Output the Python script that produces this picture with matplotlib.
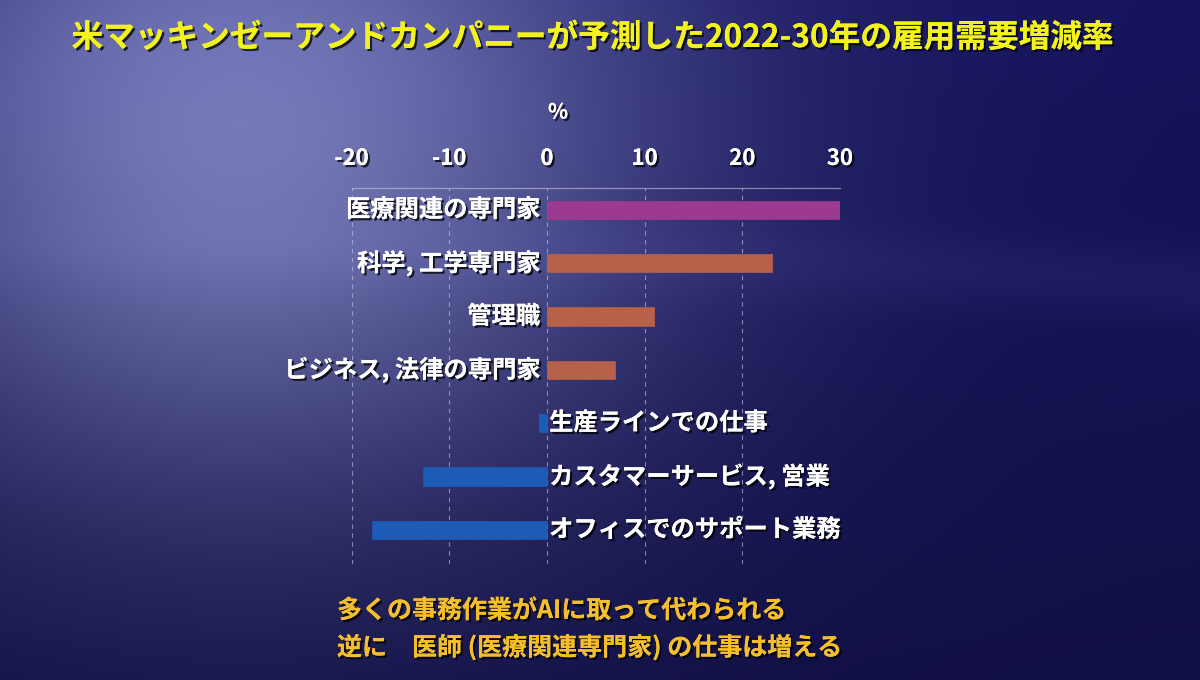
import numpy as np
import matplotlib
matplotlib.use("Agg")
import matplotlib.pyplot as plt
import matplotlib.patheffects as pe

plt.rcParams['font.family'] = ['Noto Sans CJK JP', 'DejaVu Sans']

categories = ["医療関連の専門家", "科学, 工学専門家", "管理職", "ビジネス, 法律の専門家",
              "生産ラインでの仕事", "カスタマーサービス, 営業", "オフィスでのサポート業務"]
values = [30, 23, 11, 7, -0.8, -12.7, -17.9]
bar_colors = ["#9c3a92", "#b7614b", "#b7614b", "#b7614b", "#1d5cb6", "#1d5cb6", "#1d5cb6"]
xticks = [-20, -10, 0, 10, 20, 30]
title = "米マッキンゼーアンドカンパニーが予測した2022-30年の雇用需要増減率"
note1 = "多くの事務作業がAIに取って代わられる"
note2 = "逆に　医師 (医療関連専門家) の仕事は増える"

W, H = 1200, 680
fig = plt.figure(figsize=(W / 100, H / 100), dpi=100)

# background gradient
bg = fig.add_axes([0, 0, 1, 1])
yy, xx = np.mgrid[0:H, 0:W]
base = np.array([22, 20, 92]) / 255.0
glow = np.array([118, 122, 188]) / 255.0
d2 = ((xx - 240) ** 2 + ((yy - 130) * 1.15) ** 2)
g = np.exp(-d2 / (2 * 300.0 ** 2))
v = np.clip((yy / H), 0, 1)
img = base[None, None, :] * (1 - 0.25 * v[..., None]) + (glow - base)[None, None, :] * g[..., None]
band_center = 235 + 0.03 * xx + 0.00004 * (xx - 600) ** 2
band = np.exp(-((yy - band_center) ** 2) / (2 * 25.0 ** 2)) * 0.06
img = img + band[..., None] * np.array([0.6, 0.6, 0.9])[None, None, :] * (0.3 + 0.7 * (xx / W))[..., None]
img = np.clip(img, 0, 1)
bg.imshow(img, extent=[0, W, H, 0], aspect='auto', interpolation='bilinear')
bg.set_xlim(0, W)
bg.set_ylim(H, 0)
bg.axis('off')

shadow = [pe.withSimplePatchShadow(offset=(1.6, -1.6), shadow_rgbFace='black', alpha=0.75), pe.Normal()]

ax = fig.add_axes([351.6 / W, 1 - 564 / H, 488.4 / W, (564 - 188) / H])
ax.patch.set_alpha(0)
y = np.arange(len(categories))
ax.barh(y, values, height=0.34, color=bar_colors, edgecolor=bar_colors, linewidth=0.5, zorder=3)
ax.set_xlim(-20, 30)
ax.set_ylim(6.64, -0.41)
ax.set_xticks(xticks)
ax.set_xticklabels([str(t) for t in xticks])
ax.xaxis.tick_top()
ax.tick_params(axis='x', length=0, pad=13, labelsize=16, labelcolor='white')
for lab in ax.get_xticklabels():
    lab.set_fontweight('bold')
    lab.set_path_effects(shadow)
ax.set_yticks([])
ax.grid(axis='x', color='#c8c8e0', linestyle=(0, (4, 4)), linewidth=0.8, alpha=0.6, zorder=0)
for s in ['left', 'right', 'bottom']:
    ax.spines[s].set_visible(False)
ax.spines['top'].set_color('#c8c8e0')
ax.spines['top'].set_alpha(0.6)
ax.spines['top'].set_linewidth(0.9)

for yi, (cat, val) in enumerate(zip(categories, values)):
    if val >= 0:
        ax.annotate(cat, xy=(0, yi), xytext=(-5, 0), textcoords='offset points',
                    ha='right', va='center', fontsize=17.5, fontweight='bold', color='white',
                    path_effects=shadow)
    else:
        ax.annotate(cat, xy=(0, yi), xytext=(1.5, 0), textcoords='offset points',
                    ha='left', va='center', fontsize=17.5, fontweight='bold', color='white',
                    path_effects=shadow)

fig.text(558 / W, 1 - 112 / H, "%", ha='center', va='center', fontsize=15,
         fontweight='bold', color='white', path_effects=shadow)

fig.text(592 / W, 1 - 38 / H, title, ha='center', va='center', fontsize=22.8,
         fontweight='bold', color='#f2f21e', path_effects=shadow)

fig.text(337 / W, 1 - 611 / H, note1, ha='left', va='center', fontsize=18,
         fontweight='bold', color='#f4be2c', path_effects=shadow)
fig.text(337 / W, 1 - 647 / H, note2, ha='left', va='center', fontsize=18,
         fontweight='bold', color='#f4be2c', path_effects=shadow)

fig.savefig("out.png", dpi=100)
